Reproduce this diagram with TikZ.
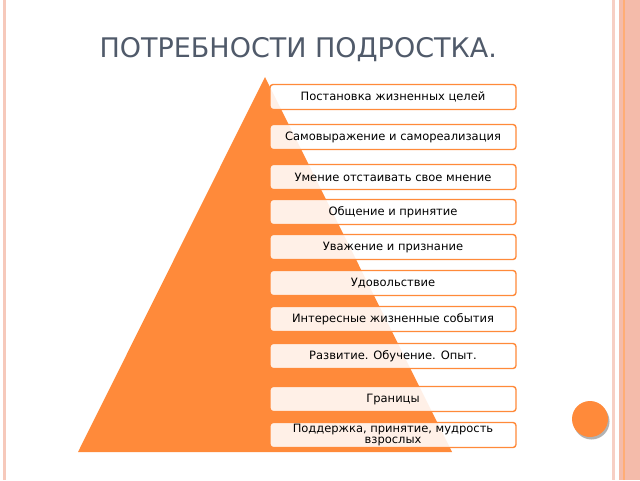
\documentclass[tikz,border=0pt]{standalone}
\usepackage{fontspec}
\setmainfont{DejaVu Sans}
\begin{document}
\begin{tikzpicture}[x=1pt,y=-1pt,
  lvl/.style={draw=orgc,line width=1.4pt,rounded corners=3pt,fill=white,fill opacity=0.88,text opacity=1,minimum width=246pt,minimum height=25pt,inner sep=1pt,align=center,font=\fontsize{11.5}{11}\selectfont,text=black}]
\definecolor{orgc}{HTML}{FF8A3A}
\definecolor{pinkc}{HTML}{F4BBAA}
\definecolor{titc}{HTML}{505A6A}
\useasboundingbox (0,0) rectangle (640,480);
\fill[white] (0,0) rectangle (640,480);
\fill[pinkc!80] (3,0) rectangle (6,480);
\fill[pinkc!70] (612,0) rectangle (615,480);
\fill[pinkc] (619,0) rectangle (640,480);
\fill[orgc!70] (622.5,0) rectangle (624.5,480);
\node[font=\fontsize{27}{29}\selectfont,text=titc,anchor=west] (title) at (96,50) {ПОТРЕБНОСТИ ПОДРОСТКА.};
\fill[orgc] (265,77) -- (452,452) -- (78,452) -- cycle;
\fill[gray!60] (591.5,421.5) circle (18);
\fill[orgc] (590,419) circle (18);
\node[lvl] (n1) at (393,97) {Постановка жизненных целей};
\node[lvl] (n2) at (393,137) {Самовыражение и самореализация};
\node[lvl] (n3) at (393,177) {Умение отстаивать свое мнение};
\node[lvl] (n4) at (393,212) {Общение и принятие};
\node[lvl] (n5) at (393,247) {Уважение и признание};
\node[lvl] (n6) at (393,283) {Удовольствие};
\node[lvl] (n7) at (393,319) {Интересные жизненные события};
\node[lvl] (n8) at (393,356) {Развитие. Обучение. Опыт.};
\node[lvl] (n9) at (393,399) {Границы};
\node[lvl] (n10) at (393,435) {Поддержка, принятие, мудрость\\взрослых};
\end{tikzpicture}
\end{document}
